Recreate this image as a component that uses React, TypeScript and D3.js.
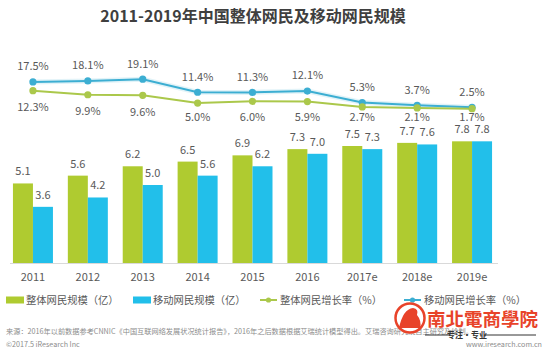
import React from "react";
import * as d3 from "d3";

// data
const years = ["2011", "2012", "2013", "2014", "2015", "2016", "2017e", "2018e", "2019e"];
const totalUsers = [5.1, 5.6, 6.2, 6.5, 6.9, 7.3, 7.5, 7.7, 7.8];
const mobileUsers = [3.6, 4.2, 5.0, 5.6, 6.2, 7.0, 7.3, 7.6, 7.8];
const totalGrowth = [12.3, 9.9, 9.6, 5.0, 6.0, 5.9, 2.7, 2.1, 1.7];
const mobileGrowth = [17.5, 18.1, 19.1, 11.4, 11.3, 12.1, 5.3, 3.7, 2.5];

const legendItems = [
  {label: "整体网民规模（亿）", kind: "bar", key: "green"},
  {label: "移动网民规模（亿）", kind: "bar", key: "blue"},
  {label: "整体网民增长率（%）", kind: "line", key: "green"},
  {label: "移动网民增长率（%）", kind: "line", key: "blue"},
];

const W = 549;
const H = 353;
const FONT = "'Noto Sans CJK SC', 'Noto Sans', sans-serif";
const colors: any = {
  green: "#afcb30",
  blue: "#22bfea",
  lineGreen: "#abc84b",
  lineBlue: "#3caed2",
  text: "#595959",
};

export default function App() {
  const x = d3.scaleBand().domain(years).range([5.5, 499.5]).padding(0);
  const bw = x.bandwidth();
  const sub = d3
    .scaleBand()
    .domain(["total", "mobile"])
    .range([bw / 2 - 20, bw / 2 + 20])
    .padding(0);
  const yBar = d3.scaleLinear().domain([0, 10]).range([263, 107]);
  const yLine = d3.scaleLinear().domain([0, 20]).range([111.5, 77.7]);
  const cx = (d: string) => (x(d) as number) + bw / 2;

  const line = d3
    .line<number>()
    .x((d, i) => cx(years[i]))
    .y((d) => yLine(d));

  // legend x offsets
  const legendX = [6, 133, 260, 404];

  return (
    <svg width={W} height={H} style={{position: "absolute", left: 0, top: 0, background: "#fff"}} fontFamily={FONT}>
      <text x={253} y={22} textAnchor="middle" fontSize={16} fontWeight="bold" fill="#3f3f3f">
        2011-2019年中国整体网民及移动网民规模
      </text>

      {/* bars */}
      {years.map((yr, i) => (
        <g key={yr} transform={`translate(${x(yr)},0)`}>
          <rect x={sub("total")} y={yBar(totalUsers[i])} width={sub.bandwidth()} height={263 - yBar(totalUsers[i])} fill={colors.green} />
          <rect x={sub("mobile")} y={yBar(mobileUsers[i])} width={sub.bandwidth()} height={263 - yBar(mobileUsers[i])} fill={colors.blue} />
          <text x={(sub("total") as number) + sub.bandwidth() / 2} y={yBar(totalUsers[i]) - 8} textAnchor="middle" fontSize={11} fill={colors.text}>
            {totalUsers[i].toFixed(1)}
          </text>
          <text x={(sub("mobile") as number) + sub.bandwidth() / 2} y={yBar(mobileUsers[i]) - 8} textAnchor="middle" fontSize={11} fill={colors.text}>
            {mobileUsers[i].toFixed(1)}
          </text>
          <text x={bw / 2} y={281} textAnchor="middle" fontSize={11} fill={colors.text}>
            {yr}
          </text>
        </g>
      ))}
      <line x1={10} x2={498} y1={263.5} y2={263.5} stroke="#d9d9d9" strokeWidth={1} />

      {/* lines */}
      <path d={line(mobileGrowth) as string} fill="none" stroke={colors.lineBlue} strokeWidth={5} strokeOpacity={0.15} />
      <path d={line(mobileGrowth) as string} fill="none" stroke={colors.lineBlue} strokeWidth={2} />
      <path d={line(totalGrowth) as string} fill="none" stroke={colors.lineGreen} strokeWidth={2} />
      {years.map((yr, i) => (
        <g key={"p" + yr}>
          <circle cx={cx(yr)} cy={yLine(mobileGrowth[i])} r={3.6} fill={colors.lineBlue} />
          <circle cx={cx(yr)} cy={yLine(totalGrowth[i])} r={3.6} fill={colors.lineGreen} />
          <text x={cx(yr)} y={yLine(mobileGrowth[i]) - 11.6} textAnchor="middle" fontSize={11} fill={colors.text}>
            {mobileGrowth[i].toFixed(1) + "%"}
          </text>
          <text x={cx(yr)} y={Math.min(yLine(totalGrowth[i]) + 16.5, yLine(0) + 5) + 4} textAnchor="middle" fontSize={11} fill={colors.text}>
            {totalGrowth[i].toFixed(1) + "%"}
          </text>
        </g>
      ))}

      {/* legend */}
      {legendItems.map((it, i) => (
        <g key={it.label} transform={`translate(${legendX[i]},300)`}>
          {it.kind === "bar" ? (
            <rect x={0} y={-3.5} width={18} height={7} fill={colors[it.key]} />
          ) : (
            <g>
              <line x1={0} x2={17} y1={0} y2={0} stroke={it.key === "green" ? colors.lineGreen : colors.lineBlue} strokeWidth={2} />
              <circle cx={8.5} cy={0} r={2.6} fill={it.key === "green" ? colors.lineGreen : colors.lineBlue} />
            </g>
          )}
          <text x={20} y={4} fontSize={10.3} fill={colors.text}>
            {it.label}
          </text>
        </g>
      ))}

      {/* footer */}
      <text x={6} y={334} fontSize={7.2} fill="#8c8c8c">
        来源：2016年以前数据参考CNNIC《中国互联网络发展状况统计报告》，2016年之后数据根据艾瑞统计模型得出。艾瑞咨询研究院自主研究及绘制。
      </text>
      <text x={6} y={347} fontSize={7.2} fill="#8c8c8c">
        ©2017.5 iResearch Inc
      </text>
      <text x={542} y={347} textAnchor="end" fontSize={7.2} fill="#8c8c8c">
        www.iresearch.com.cn
      </text>

      {/* watermark */}
      <g>
        <rect x={426} y={309} width={118} height={19} fill="#fff" fillOpacity={0.6} />
        <circle cx={410} cy={318} r={14.5} fill="#fff" stroke="#e8432a" strokeWidth={2.5} />
        <path d="M399,328 Q403,309 413,308 Q419,309 417,315 Q422,321 420,328 Z" fill="#e8432a" />
        <text x={427} y={326} fontSize={18.5} fontWeight="bold" fill="#e8432a" fontFamily="'Noto Sans CJK TC', sans-serif">
          南北電商學院
        </text>
        <line x1={425} x2={450} y1={335} y2={335} stroke="#333" strokeWidth={1} />
        <line x1={484} x2={536} y1={335} y2={335} stroke="#333" strokeWidth={1} />
        <text x={467} y={338} textAnchor="middle" fontSize={8} fontWeight="bold" fill="#333">
          专注·专业
        </text>
      </g>
    </svg>
  );
}
